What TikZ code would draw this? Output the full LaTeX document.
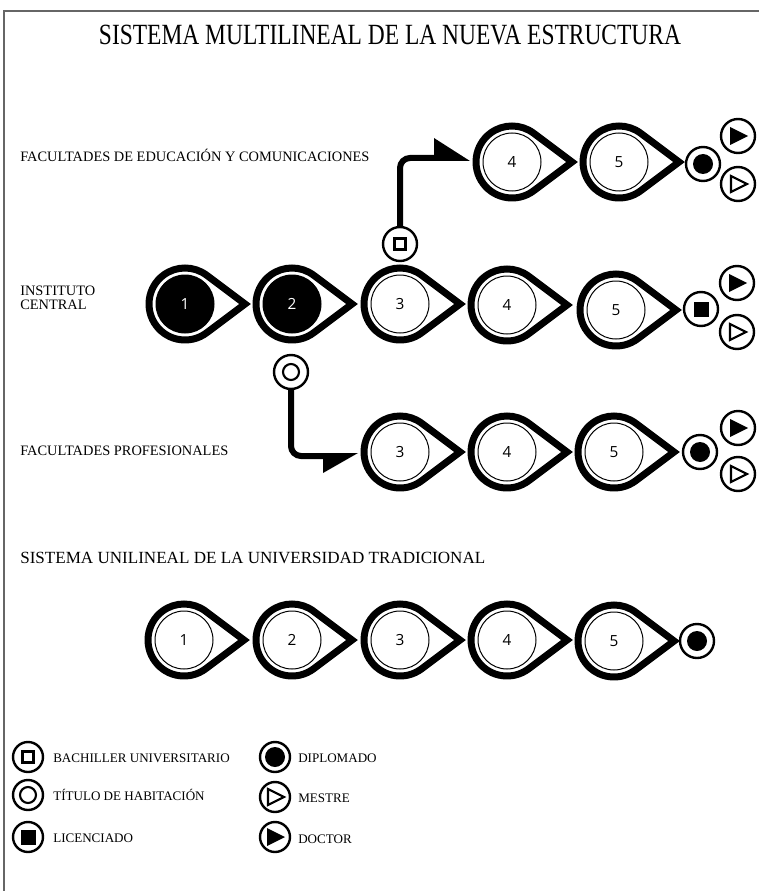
\documentclass[tikz,border=0pt]{standalone}
\usepackage{fontspec}
\setmainfont{Liberation Serif}
\newfontfamily\numfont{Open Sans}
\tikzset{
  drop/.pic={\draw[line width=5.25pt,line join=miter]
      (60,0) -- (53.13:36) arc[start angle=53.13,end angle=306.87,radius=36] -- cycle;},
  stage/.style={circle,draw,line width=0.75pt,minimum size=43.5pt,inner sep=0pt,
      font=\numfont\fontsize{11.5}{12}\selectfont},
  stagefull/.style={stage,fill=black,text=white},
  degcircle/.style={circle,draw,line width=1.8pt,minimum size=25.5pt,inner sep=0pt},
  keycircle/.style={degcircle,minimum size=22.5pt},
  conn/.style={line width=4.5pt,rounded corners=7.5pt},
  rowtext/.style={anchor=base west,inner sep=0pt,font=\fontsize{10.8}{12}\selectfont},
  keytext/.style={anchor=base west,inner sep=0pt,font=\fontsize{9.8}{11}\selectfont},
  bachsym/.pic={\draw[line width=1.6pt] (-5.5,-5.5) rectangle (5.5,5.5);},
  titsym/.pic={\draw[line width=1.6pt] (0,0) circle[radius=8];},
  licsym/.pic={\fill (-7.5,-7.5) rectangle (7.5,7.5);},
  dipsym/.pic={\fill (0,0) circle[radius=10];},
  messym/.pic={\draw[line width=1.6pt,line join=miter] (-7,-8) -- (9,0) -- (-7,8) -- cycle;},
  docsym/.pic={\fill (-8,-9) -- (10,0) -- (-8,9) -- cycle;}
}
\begin{document}
\begin{tikzpicture}[x=0.75pt,y=-0.75pt]
  \useasboundingbox (0,0) rectangle (759,891);
  \draw[line width=1.1pt,black!60] (4,891) -- (4,11) -- (759,11);

  % titles
  \node[anchor=base,inner sep=0pt,font=\fontsize{22}{24}\selectfont] (title) at (390,45)
    {\scalebox{0.8}[1]{SISTEMA MULTILINEAL DE LA NUEVA ESTRUCTURA}};
  \node[rowtext] (edtext) at (20,162) {FACULTADES DE EDUCACIÓN Y COMUNICACIONES};
  \node[rowtext] (ictext) at (20,295) {INSTITUTO};
  \node[rowtext] (ictext2) at (20,309) {CENTRAL};
  \node[rowtext] (prtext) at (20,455) {FACULTADES PROFESIONALES};
  \node[rowtext,font=\fontsize{12.8}{14}\selectfont] (trtext) at (20,563)
    {SISTEMA UNILINEAL DE LA UNIVERSIDAD TRADICIONAL};

  % educacion y comunicaciones
  \node[stage] (e4) at (512,162) {4};
  \node[stage] (e5) at (619,162) {5};
  \pic at (e4) {drop};
  \pic at (e5) {drop};
  \node[degcircle] (ed) at (703,164) {}; \pic at (ed) {dipsym};
  \node[degcircle] (edoc) at (738,136) {}; \pic at (edoc) {docsym};
  \node[degcircle] (emes) at (738,184) {}; \pic at (emes) {messym};

  % instituto central
  \node[stagefull] (c1) at (185,304) {1};
  \node[stagefull] (c2) at (292,304) {2};
  \node[stage] (c3) at (400,304) {3};
  \node[stage] (c4) at (507,305) {4};
  \node[stage] (c5) at (616,310) {5};
  \pic at (c1) {drop};
  \pic at (c2) {drop};
  \pic at (c3) {drop};
  \pic at (c4) {drop};
  \pic at (c5) {drop};
  \node[degcircle] (cl) at (701,309) {}; \pic at (cl) {licsym};
  \node[degcircle] (cdoc) at (737,283) {}; \pic at (cdoc) {docsym};
  \node[degcircle] (cmes) at (737,332) {}; \pic at (cmes) {messym};

  % branches
  \node[degcircle] (eb) at (400,244) {}; \pic at (eb) {bachsym};
  \node[degcircle] (ph) at (291,372) {}; \pic at (ph) {titsym};
  \coordinate (a1) at (436,158);
  \coordinate (a2) at (325,456);
  \draw[conn] (eb) |- (a1);
  \fill (a1) ++(34,3) -- ++(-36,-23) -- ++(0,23) -- cycle;
  \draw[conn] (ph) |- (a2);
  \fill (a2) ++(33,-3) -- ++(-35,20) -- ++(0,-20) -- cycle;

  % facultades profesionales
  \node[stage] (p3) at (400,452) {3};
  \node[stage] (p4) at (507,452) {4};
  \node[stage] (p5) at (614,452) {5};
  \pic at (p3) {drop};
  \pic at (p4) {drop};
  \pic at (p5) {drop};
  \node[degcircle] (pd) at (700,452) {}; \pic at (pd) {dipsym};
  \node[degcircle] (pdoc) at (738,428) {}; \pic at (pdoc) {docsym};
  \node[degcircle] (pmes) at (738,474) {}; \pic at (pmes) {messym};

  % universidad tradicional
  \node[stage] (t1) at (184,640) {1};
  \node[stage] (t2) at (292,640) {2};
  \node[stage] (t3) at (400,640) {3};
  \node[stage] (t4) at (507,640) {4};
  \node[stage] (t5) at (614,641) {5};
  \pic at (t1) {drop};
  \pic at (t2) {drop};
  \pic at (t3) {drop};
  \pic at (t4) {drop};
  \pic at (t5) {drop};
  \node[degcircle] (td) at (697,641) {}; \pic at (td) {dipsym};

  % legend
  \node[keycircle] (k1) at (28,757) {}; \pic at (k1) {bachsym};
  \node[keycircle] (k2) at (28,795) {}; \pic at (k2) {titsym};
  \node[keycircle] (k3) at (28,837) {}; \pic at (k3) {licsym};
  \node[keycircle] (k4) at (275,757) {}; \pic at (k4) {dipsym};
  \node[keycircle] (k5) at (275,797) {}; \pic at (k5) {messym};
  \node[keycircle] (k6) at (275,837) {}; \pic at (k6) {docsym};
  \node[keytext] (k1t) at (53,762) {BACHILLER UNIVERSITARIO};
  \node[keytext] (k2t) at (53,800) {TÍTULO DE HABITACIÓN};
  \node[keytext] (k3t) at (53,842) {LICENCIADO};
  \node[keytext] (k4t) at (298,762) {DIPLOMADO};
  \node[keytext] (k5t) at (298,802) {MESTRE};
  \node[keytext] (k6t) at (298,843) {DOCTOR};
\end{tikzpicture}
\end{document}
